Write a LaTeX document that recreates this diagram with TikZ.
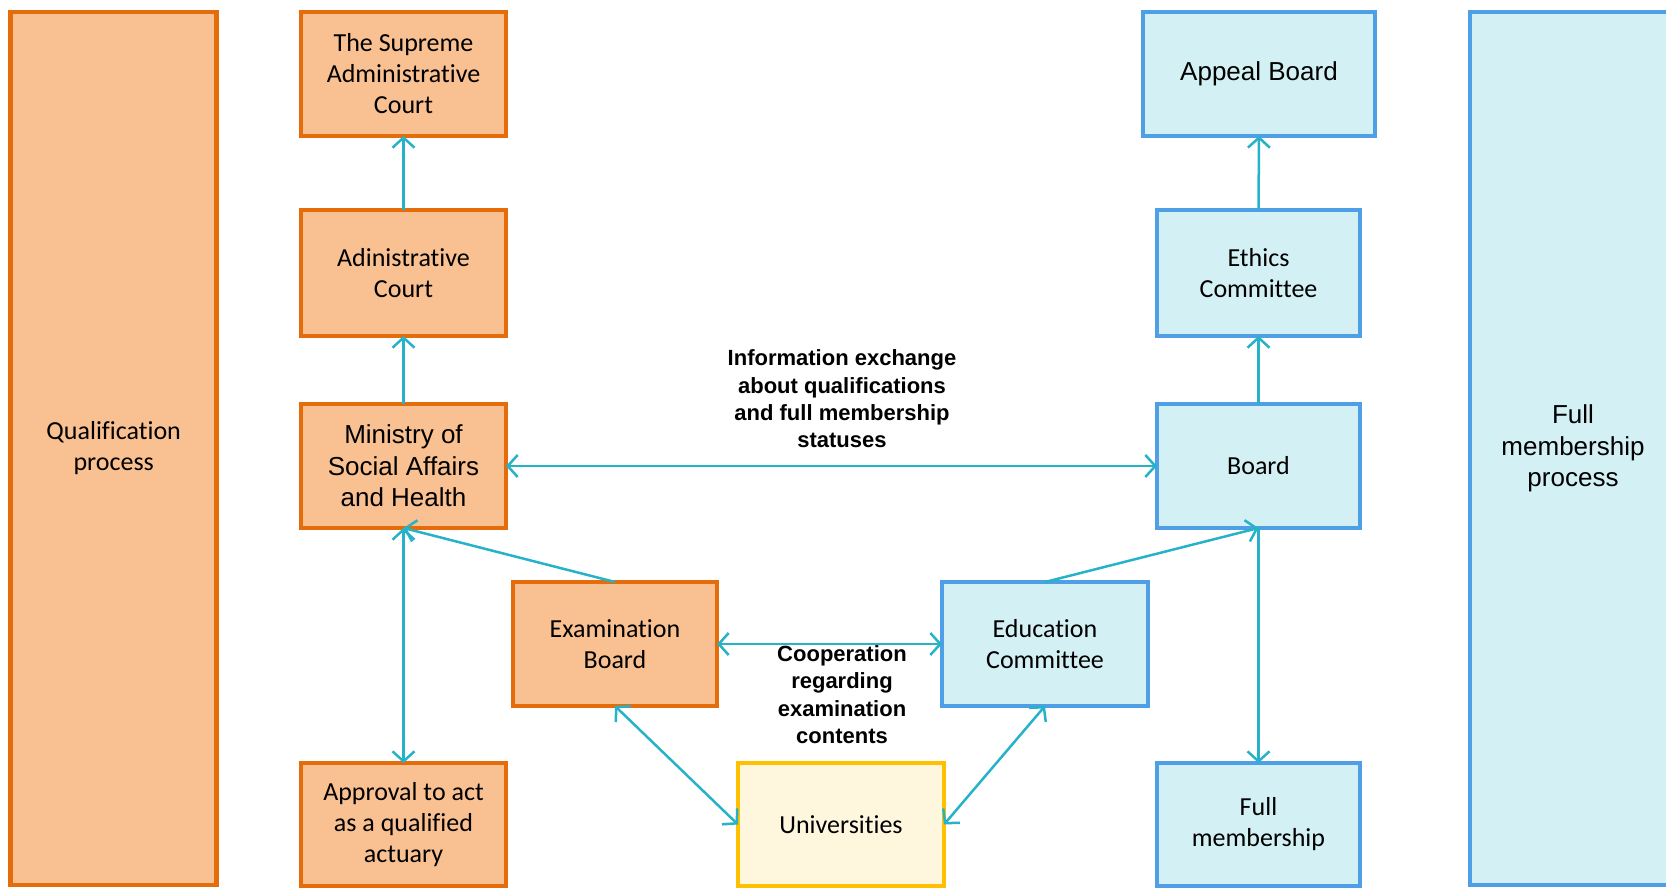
\documentclass[tikz,border=0pt]{standalone}
\usepackage{fontspec}
\setmainfont[Ligatures={NoCommon,NoContextual}]{Carlito}
\newfontfamily\arialfont{Liberation Sans}
\usetikzlibrary{arrows.meta}
\definecolor{orfill}{HTML}{F9C091}
\definecolor{ordraw}{HTML}{E46C0A}
\definecolor{blfill}{HTML}{D3F0F4}
\definecolor{bldraw}{HTML}{4E9FE6}
\definecolor{yefill}{HTML}{FFF6DE}
\definecolor{yedraw}{HTML}{FFC000}
\definecolor{arr}{HTML}{26B2C9}
\tikzset{
  box/.style={rectangle, line width=4.5pt, align=center, inner sep=0pt, outer sep=0pt,
    minimum width=205pt, minimum height=124pt, font=\fontsize{26}{31}\selectfont},
  obox/.style={box, fill=orfill, draw=ordraw},
  bbox/.style={box, fill=blfill, draw=bldraw},
  ybox/.style={box, fill=yefill, draw=yedraw},
  arialtxt/.style={font=\arialfont\fontsize{26}{31.5}\selectfont},
  lbl/.style={align=center, font=\arialfont\bfseries\fontsize{22}{27.3}\selectfont},
  conn/.style={draw=arr, line width=2.5pt},
  tip/.style={-{Straight Barb[length=10pt,width=22pt]}},
  tips/.style={{Straight Barb[length=10pt,width=22pt]}-{Straight Barb[length=10pt,width=22pt]}},
}
\begin{document}
\begin{tikzpicture}[x=1pt,y=-1pt]
\useasboundingbox (0,0) rectangle (1666,888);
\begin{scope}
\clip (0,0) rectangle (1666,888);
% side panels
\node[obox, minimum width=206pt, minimum height=873pt] (qual) at (113.7,448.5) {Qualification\\process};
\node[bbox, arialtxt, minimum width=206pt, minimum height=873pt] (fmp) at (1573,448.5) {Full\\membership\\process};
% left column
\node[obox] (sup) at (403.5,74) {The Supreme\\Administrative\\Court};
\node[obox, minimum height=126pt] (adm) at (403.5,273) {Adinistrative\\Court};
\node[obox, arialtxt] (min) at (403.5,466) {Ministry of\\Social Affairs\\and Health};
\node[obox, minimum height=123pt] (appr) at (403.5,824.5) {Approval to act\\as a qualified\\actuary};
% middle
\node[obox, minimum width=204pt] (exam) at (615,644) {Examination\\Board};
\node[ybox, minimum width=206pt, minimum height=123pt] (univ) at (841,824.5) {Universities};
\node[bbox, minimum width=206pt] (edu) at (1045,644) {Education\\Committee};
% right column
\node[bbox, arialtxt, minimum width=232pt] (app) at (1259,74) {Appeal Board};
\node[bbox, minimum width=203pt, minimum height=126pt] (eth) at (1258.5,273) {Ethics\\Committee};
\node[bbox, minimum width=203pt] (brd) at (1258.5,466) {Board};
\node[bbox, minimum width=203pt, minimum height=123pt] (full) at (1258.5,824.5) {Full\\membership};
\end{scope}
% labels
\node[lbl] (info) at (842,399) {Information exchange\\about qualifications\\and full membership\\statuses};
\node[lbl] (coop) at (842,694.5) {Cooperation\\regarding\\examination\\contents};
% connectors
\draw[conn, tip] (adm.north) -- (sup.south);
\draw[conn, tip] (min.north) -- (adm.south);
\draw[conn, tips] (min.east) -- (brd.west);
\draw[conn, tip] (exam.north) -- (min.south);
\draw[conn, tips] (min.south) -- (appr.north);
\draw[conn, tips] (exam.east) -- (edu.west);
\draw[conn, tips] (exam.south) -- (univ.west);
\draw[conn, tips] (edu.south) -- (univ.east);
\draw[conn, tip] (edu.north) -- (brd.south);
\draw[conn, tip] (brd.south) -- (full.north);
\draw[conn, tip] (brd.north) -- (eth.south);
\draw[conn, tip] (eth.north) -- (app.south);
\end{tikzpicture}
\end{document}
